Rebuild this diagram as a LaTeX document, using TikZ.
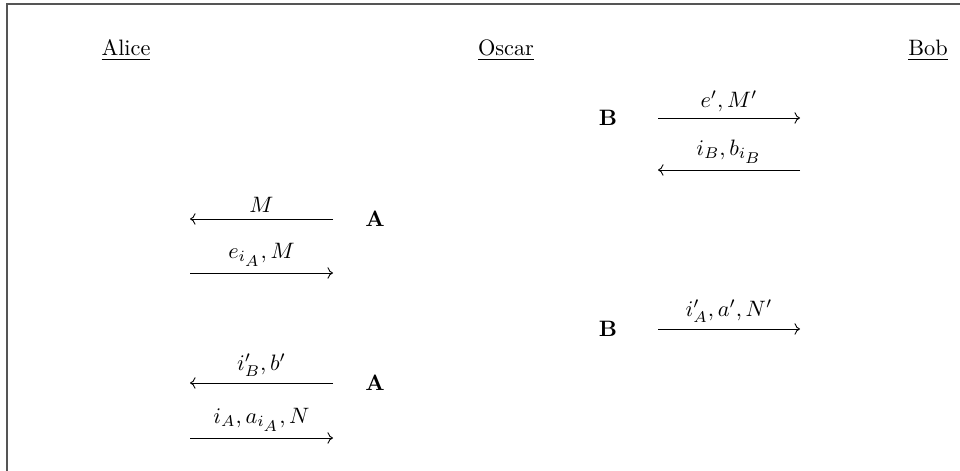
\documentclass[tikz,border=0pt]{standalone}
\usepackage{amsmath}
\usepackage{tikz}
\usetikzlibrary{arrows.meta, positioning}
\DeclareMathSizes{10}{10}{7}{7}
\definecolor{framegray}{RGB}{85,85,85}
\tikzset{
  party/.style={anchor=base, inner sep=1pt, font=\normalsize},
  role/.style={anchor=center, inner sep=1pt, font=\bfseries},
  msg/.style={-{To}, line width=0.4pt},
  lbl/.style={above, inner sep=2.6pt},
  frame/.style={draw=framegray, line width=0.6pt},
}
\begin{document}
\begin{tikzpicture}[x=0.4484pt, y=-0.4484pt]
  \useasboundingbox (0,0) rectangle (960,471);
  \draw[frame] (7,471) -- (7,4) -- (960,4);

  \node[party] (alice) at (126,56) {\underline{Alice}};
  \node[party] (oscar) at (506,56) {\underline{Oscar}};
  \node[party] (bob)   at (928,56) {\underline{Bob}};

  \node[role] (roleB1) at (608,118) {B};
  \node[role] (roleA1) at (375,219) {A};
  \node[role] (roleB2) at (608,329) {B};
  \node[role] (roleA2) at (375,383) {A};

  \coordinate (b1l) at (658,118);
  \coordinate (b1r) at (800,118);
  \coordinate (b2l) at (658,170);
  \coordinate (b2r) at (800,170);
  \coordinate (a1l) at (190,219);
  \coordinate (a1r) at (333,219);
  \coordinate (a2l) at (190,273);
  \coordinate (a2r) at (333,273);
  \coordinate (b3l) at (658,329);
  \coordinate (b3r) at (800,329);
  \coordinate (a3l) at (190,383);
  \coordinate (a3r) at (333,383);
  \coordinate (a4l) at (190,438);
  \coordinate (a4r) at (333,438);

  \draw[msg] (b1l) -- node[lbl] {$e', M'$} (b1r);
  \draw[msg] (b2r) -- node[lbl] {$i_B, b_{i_B}$} (b2l);
  \draw[msg] (a1r) -- node[lbl] {$M$} (a1l);
  \draw[msg] (a2l) -- node[lbl] {$e_{i_A}, M$} (a2r);
  \draw[msg] (b3l) -- node[lbl] {$i'_A, a', N'$} (b3r);
  \draw[msg] (a3r) -- node[lbl] {$i'_B, b'$} (a3l);
  \draw[msg] (a4l) -- node[lbl] {$i_A, a_{i_A}, N$} (a4r);
\end{tikzpicture}
\end{document}
